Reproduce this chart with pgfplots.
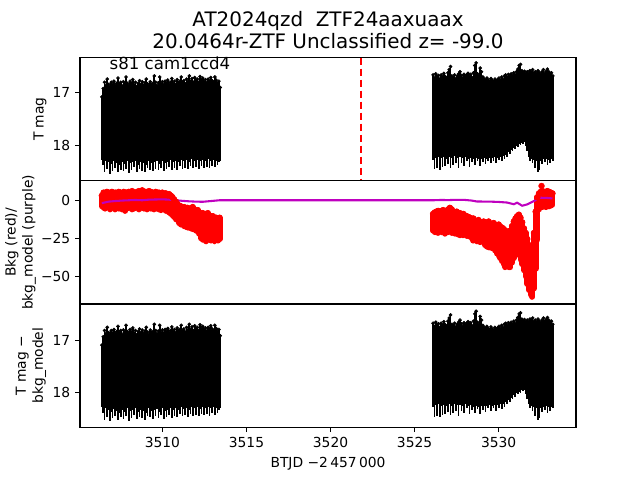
\documentclass[border=0pt]{standalone}
\usepackage{pgfplots}
\pgfplotsset{compat=1.18}
\usepackage{pgfplotstable}
\usepackage{fontspec}
\setmainfont{DejaVu Sans}
\definecolor{mplm}{rgb}{0.75,0,0.75}

% black band, segment 1: t, top (bright edge), bottom (faint edge)
\pgfplotstableread{
t a b
3506.40 17.08 18.28
3506.48 16.92 18.38
3506.56 16.80 18.52
3506.64 16.86 18.30
3506.72 16.74 18.46
3506.80 16.84 18.33
3506.88 16.88 18.55
3506.96 16.80 18.36
3507.04 16.85 18.49
3507.12 16.78 18.31
3507.20 16.86 18.44
3507.28 16.82 18.34
3507.36 16.72 18.52
3507.44 16.84 18.38
3507.52 16.80 18.47
3507.60 16.87 18.32
3507.68 16.79 18.50
3507.76 16.83 18.36
3507.84 16.70 18.45
3507.92 16.82 18.30
3508.00 16.86 18.54
3508.08 16.78 18.35
3508.16 16.83 18.48
3508.24 16.75 18.33
3508.32 16.85 18.42
3508.40 16.80 18.30
3508.48 16.88 18.51
3508.56 16.82 18.37
3508.64 16.77 18.46
3508.72 16.84 18.32
3508.80 16.79 18.49
3508.88 16.86 18.34
3508.96 16.81 18.52
3509.04 16.74 18.38
3509.12 16.83 18.44
3509.20 16.87 18.30
3509.28 16.79 18.47
3509.36 16.84 18.35
3509.44 16.82 18.50
3509.52 16.68 18.33
3509.60 16.80 18.45
3509.68 16.86 18.31
3509.76 16.81 18.48
3509.84 16.70 18.36
3509.92 16.83 18.43
3510.00 16.79 18.30
3510.08 16.85 18.50
3510.16 16.78 18.34
3510.24 16.82 18.46
3510.32 16.76 18.32
3510.40 16.84 18.42
3510.48 16.80 18.29
3510.56 16.73 18.48
3510.64 16.82 18.33
3510.72 16.78 18.44
3510.80 16.84 18.30
3510.88 16.75 18.47
3510.96 16.81 18.32
3511.04 16.78 18.40
3511.12 16.70 18.28
3511.20 16.80 18.45
3511.28 16.77 18.31
3511.36 16.83 18.43
3511.44 16.74 18.29
3511.52 16.79 18.46
3511.60 16.68 18.32
3511.68 16.78 18.40
3511.76 16.73 18.27
3511.84 16.80 18.44
3511.92 16.71 18.30
3512.00 16.77 18.42
3512.08 16.74 18.28
3512.16 16.80 18.45
3512.24 16.69 18.31
3512.32 16.76 18.40
3512.40 16.72 18.28
3512.48 16.79 18.43
3512.56 16.75 18.30
3512.64 16.81 18.41
3512.72 16.74 18.27
3512.80 16.78 18.44
3512.88 16.71 18.30
3512.96 16.77 18.39
3513.04 16.80 18.28
3513.12 16.70 18.42
3513.20 16.76 18.30
3513.28 16.82 18.38
3513.36 16.78 18.33
3513.44 16.90 18.30
}\blackA

\pgfplotstableread{
t a b
3526.10 16.66 18.28
3526.18 16.72 18.46
3526.26 16.64 18.24
3526.34 16.70 18.44
3526.42 16.67 18.22
3526.50 16.74 18.47
3526.58 16.66 18.25
3526.66 16.70 18.42
3526.74 16.63 18.23
3526.82 16.69 18.40
3526.90 16.72 18.26
3526.98 16.62 18.36
3527.06 16.56 18.22
3527.14 16.50 18.43
3527.22 16.68 18.25
3527.30 16.71 18.38
3527.38 16.66 18.21
3527.46 16.73 18.35
3527.54 16.68 18.24
3527.62 16.64 18.44
3527.70 16.60 18.23
3527.78 16.67 18.34
3527.86 16.72 18.25
3527.94 16.65 18.39
3528.02 16.70 18.22
3528.10 16.66 18.30
3528.18 16.63 18.26
3528.26 16.69 18.41
3528.34 16.65 18.24
3528.42 16.71 18.33
3528.50 16.62 18.27
3528.58 16.48 18.38
3528.66 16.43 18.25
3528.74 16.64 18.31
3528.82 16.68 18.27
3528.90 16.53 18.40
3528.98 16.60 18.26
3529.06 16.70 18.32
3529.14 16.74 18.25
3529.22 16.77 18.36
3529.30 16.72 18.26
3529.38 16.76 18.30
3529.46 16.79 18.24
3529.54 16.73 18.34
3529.62 16.77 18.25
3529.70 16.80 18.30
3529.78 16.74 18.23
3529.86 16.78 18.35
3529.94 16.75 18.24
3530.02 16.72 18.29
3530.10 16.76 18.22
3530.18 16.70 18.31
3530.26 16.74 18.21
3530.34 16.68 18.27
3530.42 16.66 18.18
3530.50 16.70 18.22
3530.58 16.65 18.14
3530.66 16.69 18.17
3530.74 16.64 18.10
3530.82 16.68 18.12
3530.90 16.62 18.05
3530.98 16.66 18.07
3531.06 16.60 18.01
3531.14 16.55 18.03
3531.22 16.48 17.98
3531.30 16.46 18.00
3531.38 16.58 17.95
3531.46 16.62 17.97
3531.54 16.59 17.94
3531.62 16.63 18.02
3531.70 16.60 18.12
3531.78 16.64 18.22
3531.86 16.58 18.30
3531.94 16.61 18.26
3532.02 16.56 18.34
3532.10 16.62 18.28
3532.18 16.60 18.44
3532.26 16.64 18.30
3532.34 16.58 18.52
3532.42 16.62 18.48
3532.50 16.66 18.30
3532.58 16.60 18.36
3532.66 16.56 18.27
3532.74 16.63 18.33
3532.82 16.59 18.26
3532.90 16.55 18.38
3532.98 16.60 18.28
3533.06 16.64 18.35
3533.14 16.62 18.27
3533.22 16.68 18.30
}\blackB

% red background band: t, upper value, lower value
\pgfplotstableread{
t a b
3506.40 3 -4
3506.50 5 -5
3506.60 4.5 -5.5
3506.70 5.5 -4.5
3506.80 5 -5
3506.90 4 -6
3507.00 5.5 -5
3507.10 4.5 -4.5
3507.20 5 -6
3507.30 4 -5
3507.40 5.5 -5.5
3507.50 5 -4.5
3507.60 4.5 -6
3507.70 5.5 -5
3507.80 4 -7
3507.90 5 -5.5
3508.00 5.5 -4.5
3508.10 4.5 -5
3508.20 6 -6
3508.30 5 -5.5
3508.40 4.5 -4.5
3508.50 5.5 -5
3508.60 6 -6
3508.70 5 -5
3508.80 6.5 -4.5
3508.90 5 -5.5
3509.00 5.5 -5
3509.10 4.5 -6
3509.20 6 -4.5
3509.30 5.5 -5.5
3509.40 5 -5
3509.50 4.5 -6
3509.60 5.5 -5
3509.70 4 -5.5
3509.80 5 -6
3509.90 4.5 -6.5
3510.00 5 -5.5
3510.10 4 -6
3510.20 4.5 -7
3510.30 3.5 -6.5
3510.40 4 -8
3510.50 3 -9
3510.60 2 -10
3510.70 0.5 -11
3510.80 -1 -12.5
3510.90 -2.5 -13
3511.00 -3.5 -15
3511.10 -4 -16
3511.20 -5 -15.5
3511.30 -4.5 -17
3511.40 -6 -17.5
3511.50 -5 -18
3511.60 -6.5 -17
3511.70 -5.5 -18.5
3511.80 -4.5 -19
3511.90 -6 -18.5
3512.00 -7 -20
3512.10 -6.5 -20.5
3512.20 -8 -22
3512.30 -9.5 -25
3512.40 -8.5 -26
3512.50 -10 -25.5
3512.60 -9 -27
3512.70 -8.5 -26
3512.80 -10 -25
3512.90 -11 -26.5
3513.00 -10.5 -25.5
3513.10 -12 -27
3513.20 -11.5 -26
3513.30 -12 -26.5
3513.40 -11.5 -25.5
}\redA

\pgfplotstableread{
t a b
3526.10 -9 -20
3526.20 -8 -21
3526.30 -7.5 -20.5
3526.40 -7 -21.5
3526.50 -8 -20
3526.60 -7 -21
3526.70 -6.5 -20.5
3526.80 -7.5 -22
3526.90 -7 -20.5
3527.00 -6 -21
3527.10 -5 -20
3527.20 -6 -21.5
3527.30 -7.5 -20.5
3527.40 -8 -22
3527.50 -7.5 -21.5
3527.60 -9 -22.5
3527.70 -8.5 -23
3527.80 -9.5 -22
3527.90 -9 -23
3528.00 -10 -22.5
3528.10 -10.5 -23.5
3528.20 -11 -22.5
3528.30 -11.5 -24
3528.40 -13 -25
3528.50 -12 -26.5
3528.60 -13.5 -25.5
3528.70 -14 -27
3528.80 -13 -26.5
3528.90 -14.5 -27.5
3529.00 -15 -26.5
3529.10 -14 -28
3529.20 -15.5 -29.5
3529.30 -15 -30.5
3529.40 -14 -31
3529.50 -15.5 -30
3529.60 -16 -31.5
3529.70 -15 -31
3529.80 -16.5 -33
3529.90 -17 -35
3530.00 -16 -36.5
3530.10 -17.5 -38
3530.20 -18 -40
3530.30 -19 -42
3530.40 -20 -44
3530.50 -21.5 -43
3530.60 -22 -44
3530.70 -20 -44
3530.80 -17 -41
3530.90 -14 -38
3531.00 -12 -35.5
3531.10 -10.5 -34
3531.20 -9.5 -36
3531.30 -11.5 -39
3531.40 -14.5 -42
3531.50 -18.5 -46
3531.60 -21.5 -50
3531.70 -25.5 -55
3531.80 -29.5 -59
3531.90 -31.5 -62
3532.00 -30.5 -63.5
3532.10 -21.5 -58
3532.20 -7.5 -45
3532.30 2 -26
3532.40 4.5 -6
3532.50 5.5 -4
3532.60 6 -4.5
3532.70 5.5 -4
3532.80 5 -4.5
3532.90 6 -3.5
3533.00 5.5 -4
3533.10 5 -3.5
3533.20 4.5 -3
}\redB

\pgfplotstableread{
t v
3506.40 -1.9
3506.80 -0.9
3507.20 -0.5
3507.60 -0.2
3508.00 0.0
3508.40 0.2
3508.80 0.0
3509.20 0.4
3509.60 0.5
3510.00 0.6
3510.40 0.4
3510.80 0.0
3511.20 -0.4
3511.60 -0.7
3512.00 -0.9
3512.40 -1.0
3512.80 -0.6
3513.20 -0.2
3513.40 0.0
3526.10 0.0
3526.60 0.2
3527.00 0.1
3527.50 0.3
3528.00 0.2
3528.40 -0.2
3528.70 -0.8
3529.50 -0.9
3530.00 -1.1
3530.50 -1.5
3530.90 -2.6
3531.10 -1.6
3531.40 -3.6
3531.70 -2.7
3532.10 -0.5
3532.40 1.7
3532.90 1.5
3533.20 1.2
}\purple

\pgfplotsset{
  panel/.style={
    scale only axis, width=4.96in, height=1.232in, anchor=south west,
    xmin=3505.1, xmax=3534.6, clip=false,
    axis line style={line width=0.8pt},
    tick style={line width=0.8pt, black},
    major tick length=3.5pt, tick align=outside,
    xtick pos=bottom, ytick pos=left,
    every tick label/.append style={font=\fontsize{10}{12}\selectfont},
    label style={font=\fontsize{10}{12.2}\selectfont},
  },
  blackband/.style={only marks, mark=*, mark size=1.1pt, black, mark options={draw=black, fill=black},
    error bars/.cd, y dir=plus, y explicit, error mark=none,
    error bar style={line width=1.2pt, black}},
  redband/.style={only marks, mark=*, mark size=2.1pt, red, mark options={draw=red, fill=red},
    error bars/.cd, y dir=minus, y explicit, error mark=none,
    error bar style={line width=4.3pt, line cap=round, red}},
}

\begin{document}
\begin{tikzpicture}
\useasboundingbox (0,0) rectangle (6.4in,4.8in);

% top panel
\begin{axis}[panel, at={(0.8in,2.992in)}, ymin=16.33, ymax=18.68, y dir=reverse,
  xtick=\empty, ytick={17,18}, yticklabels={17,18}, ylabel={T mag},
  ylabel style={at={(axis description cs:-0.0806,0.5)}, anchor=center, align=center}]
\addplot[blackband] table[x=t, y=a, y error plus expr=\thisrow{b}-\thisrow{a}] {\blackA};
\addplot[blackband] table[x=t, y=a, y error plus expr=\thisrow{b}-\thisrow{a}] {\blackB};
\addplot[red, line width=1.5pt, dash pattern=on 5.55pt off 2.4pt] coordinates {(3521.8,16.33) (3521.8,18.68)};
\node[anchor=base west, font=\fontsize{12}{14}\selectfont] at (axis description cs:0.05,0.9) {s81 cam1ccd4};
\node[anchor=base, font=\fontsize{14.4}{17}\selectfont] at (axis description cs:0.5,1) [yshift=22.2pt] {AT2024qzd\ \ ZTF24aaxuaax};
\node[anchor=base, font=\fontsize{14.4}{17}\selectfont] at (axis description cs:0.5,1) [yshift=6.7pt] {20.0464r-ZTF Unclassified z= -99.0};
\end{axis}

% middle panel
\begin{axis}[panel, at={(0.8in,1.76in)}, ymin=-68.2, ymax=12.8,
  xtick=\empty, ytick={-50,-25,0}, yticklabels={−50,−25,0},
  ylabel={Bkg (red)/\\bkg\_model (purple)},
  ylabel style={at={(axis description cs:-0.12,0.5)}, anchor=center, align=center}]
\addplot[redband] table[x=t, y=a, y error minus expr=\thisrow{a}-\thisrow{b}] {\redA};
\addplot[redband] table[x=t, y=a, y error minus expr=\thisrow{a}-\thisrow{b}] {\redB};
\addplot[only marks, mark=*, mark size=2.1pt, red, mark options={fill=red}] coordinates {(3532.55,9.4)};
\addplot[mplm, line width=1.5pt, mark=none] table[x=t, y=v] {\purple};
\end{axis}

% bottom panel
\begin{axis}[panel, at={(0.8in,0.528in)}, ymin=16.29, ymax=18.66, y dir=reverse,
  xtick={3510,3515,3520,3525,3530}, xticklabels={3510,3515,3520,3525,3530},
  ytick={17,18}, yticklabels={17,18},
  ylabel={T mag −\\bkg\_model}, xlabel={BTJD −2\,457\,000},
  ylabel style={at={(axis description cs:-0.0988,0.5)}, anchor=center, align=center}]
\addplot[blackband] table[x=t, y=a, y error plus expr=\thisrow{b}-\thisrow{a}] {\blackA};
\addplot[blackband] table[x=t, y=a, y error plus expr=\thisrow{b}-\thisrow{a}] {\blackB};
\end{axis}
\end{tikzpicture}
\end{document}
